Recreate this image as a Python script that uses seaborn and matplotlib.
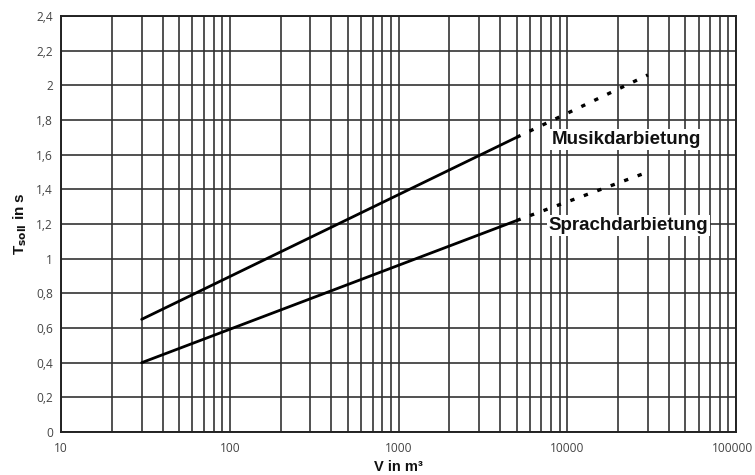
import matplotlib
matplotlib.use("Agg")
import matplotlib.pyplot as plt
import matplotlib.ticker as mticker
import matplotlib.transforms as mtransforms
import numpy as np
import pandas as pd
import seaborn as sns

# Soll-Nachhallzeit in Abhängigkeit vom Raumvolumen
volumen_gueltig = [30, 5000]          # V in m³, durchgezogener Bereich
volumen_extra = [5000, 30000]         # V in m³, gestrichelter Bereich
musik_gueltig = [0.65, 1.70]
musik_extra = [1.70, 2.06]
sprache_gueltig = [0.40, 1.22]
sprache_extra = [1.22, 1.50]

kurven = ["Musikdarbietung", "Sprachdarbietung"]
label_pos_v = [22500, 23000]
label_pos_t = [1.69, 1.19]

y_ticks = [0, 0.2, 0.4, 0.6, 0.8, 1.0, 1.2, 1.4, 1.6, 1.8, 2.0, 2.2, 2.4]
x_ticks = [10, 100, 1000, 10000, 100000]

solid = pd.DataFrame({
    "V": volumen_gueltig * 2,
    "T": musik_gueltig + sprache_gueltig,
    "Kurve": [kurven[0]] * 2 + [kurven[1]] * 2,
})
dashed = pd.DataFrame({
    "V": volumen_extra * 2,
    "T": musik_extra + sprache_extra,
    "Kurve": [kurven[0]] * 2 + [kurven[1]] * 2,
})

sns.set_theme(style="white")
plt.rcParams["font.family"] = ["Open Sans", "DejaVu Sans"]

fig = plt.figure(figsize=(7.55, 4.75), dpi=100)
ax = fig.add_axes([0.081, 0.0905, 0.894, 0.8758])

grid_col = "#333333"
sns.lineplot(data=solid, x="V", y="T", units="Kurve", estimator=None,
             color="black", linewidth=2.0, ax=ax, zorder=3)
sns.lineplot(data=dashed, x="V", y="T", units="Kurve", estimator=None,
             color="black", linewidth=2.4, ax=ax, zorder=3,
             linestyle=(0, (1.3, 3.0)))

ax.set_xscale("log")
ax.set_xlim(10, 100000)
ax.set_ylim(0, 2.4)

ax.xaxis.set_major_locator(mticker.FixedLocator(x_ticks))
ax.xaxis.set_minor_locator(mticker.LogLocator(base=10, subs=np.arange(2, 10)))
ax.xaxis.set_minor_formatter(mticker.NullFormatter())
ax.xaxis.set_major_formatter(mticker.FuncFormatter(lambda v, p: f"{int(round(v))}"))
ax.yaxis.set_major_locator(mticker.FixedLocator(y_ticks))
ax.yaxis.set_major_formatter(
    mticker.FuncFormatter(lambda v, p: f"{v:g}".replace(".", ",")))

ax.grid(True, which="both", axis="x", color=grid_col, linewidth=1.2)
ax.grid(True, which="major", axis="y", color=grid_col, linewidth=1.2)
ax.set_axisbelow(True)

for s in ax.spines.values():
    s.set_color("#222222")
    s.set_linewidth(1.4)

ax.tick_params(axis="both", which="major", length=4, width=1,
               color="#333333", labelsize=8.6, labelcolor="#444444", pad=2)
ax.tick_params(axis="x", which="minor", length=3, width=0.8,
               color="#333333", direction="inout")
ax.tick_params(axis="x", which="major", direction="inout", pad=5)

# keep the last x tick label inside the figure edge
fig.canvas.draw()
last = ax.get_xticklabels()[-1]
last.set_transform(last.get_transform() +
                   mtransforms.ScaledTranslation(-4 / 100, 0, fig.dpi_scale_trans))

lbl_font = dict(family=["Liberation Sans", "DejaVu Sans"], fontweight="bold",
                color="#111111")
ax.set_xlabel("V in m³", fontsize=10.5, labelpad=4, **lbl_font)
ax.set_ylabel(r"T$_{\mathbf{soll}}$ in s", fontsize=11, labelpad=5, **lbl_font)

for name, xv, yv in zip(kurven, label_pos_v, label_pos_t):
    ax.text(xv, yv, name, ha="center", va="center", fontsize=13.5,
            zorder=4, bbox=dict(facecolor="white", edgecolor="none", pad=1.5),
            **lbl_font)

fig.savefig("out.png", dpi=100)
